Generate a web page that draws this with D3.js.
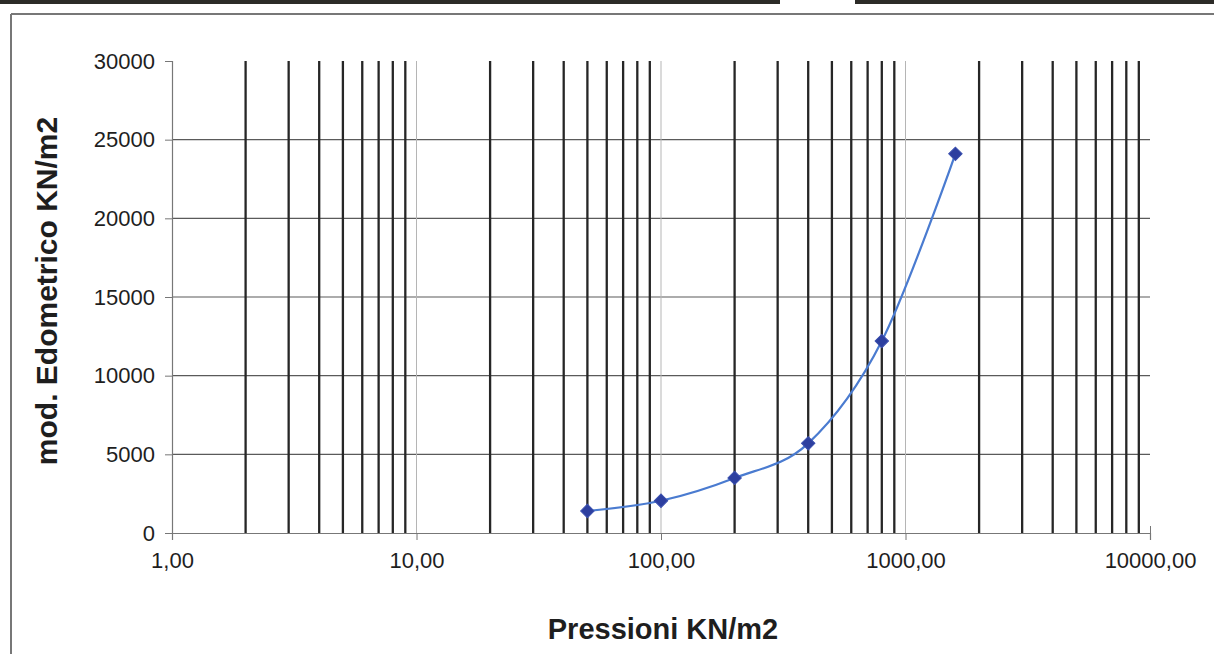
<!DOCTYPE html>
<html lang="it">
<head>
    <meta charset="UTF-8">
    <title>mod. Edometrico</title>
    <script src="https://d3js.org/d3.v7.min.js"></script>
    <style>
        body { margin: 0; background: #fff; }
        svg { display: block; }
        text { font-family: "Liberation Sans", Arial, sans-serif; fill: #1e1e1e; }
        .title { font-weight: bold; font-size: 29px; }
        .tick-label { font-size: 22px; }
    </style>
</head>
<body>
    <svg width="1214" height="654"></svg>
    <script>
        // values
        const pressures = [50, 100, 200, 400, 800, 1600];
        const moduli = [1400, 2050, 3500, 5700, 12200, 24100];
        const xTicks = [1, 10, 100, 1000, 10000];
        const xTickLabels = ["1,00", "10,00", "100,00", "1000,00", "10000,00"];
        const yTicks = [0, 5000, 10000, 15000, 20000, 25000, 30000];
        const xTitle = "Pressioni KN/m2";
        const yTitle = "mod. Edometrico KN/m2";

        const svg = d3.select("svg");

        // scanned frame: dark strip on top, border lines
        svg.append("rect").attr("x", 0).attr("y", 0).attr("width", 780).attr("height", 4).attr("fill", "#2c2b27");
        svg.append("rect").attr("x", 855).attr("y", 0).attr("width", 359).attr("height", 4).attr("fill", "#2c2b27");
        svg.append("line").attr("x1", 11).attr("x2", 1214).attr("y1", 14).attr("y2", 14)
            .attr("stroke", "#777").attr("stroke-width", 2);
        svg.append("line").attr("x1", 11).attr("x2", 11).attr("y1", 14).attr("y2", 654)
            .attr("stroke", "#777").attr("stroke-width", 2);

        const x = d3.scaleLog().domain([1, 10000]).range([172, 1150]);
        const y = d3.scaleLinear().domain([0, 30000]).range([533, 61]);

        // horizontal grid
        svg.append("g").selectAll("line")
            .data(yTicks.filter(v => v > 0 && v < 30000))
            .enter().append("line")
            .attr("x1", x(1)).attr("x2", x(10000))
            .attr("y1", d => y(d)).attr("y2", d => y(d))
            .attr("stroke", "#5a5a5a").attr("stroke-width", 1.2);

        // major vertical grid (thin)
        svg.append("g").selectAll("line")
            .data(xTicks.slice(1, -1))
            .enter().append("line")
            .attr("x1", d => x(d)).attr("x2", d => x(d))
            .attr("y1", y(30000)).attr("y2", y(0))
            .attr("stroke", "#b5b5b5").attr("stroke-width", 1);

        // minor vertical grid (heavy)
        const minor = [];
        xTicks.slice(0, -1).forEach(d => {
            for (let k = 2; k <= 9; k++) minor.push(k * d);
        });
        svg.append("g").selectAll("line")
            .data(minor)
            .enter().append("line")
            .attr("x1", d => x(d)).attr("x2", d => x(d))
            .attr("y1", y(30000)).attr("y2", y(0))
            .attr("stroke", "#262626").attr("stroke-width", 2.3);

        // y axis
        const yAxis = svg.append("g")
            .attr("transform", `translate(${x(1)},0)`)
            .call(d3.axisLeft(y).tickValues(yTicks).tickSize(7).tickPadding(10).tickFormat(d => d));
        yAxis.select(".domain").attr("stroke", "#777").attr("stroke-width", 1.2);
        yAxis.selectAll(".tick line").attr("stroke", "#777");
        yAxis.selectAll(".tick text").attr("class", "tick-label");

        // x axis
        const xAxis = svg.append("g")
            .attr("transform", `translate(0,${y(0)})`)
            .call(d3.axisBottom(x).tickValues(xTicks).tickSize(7).tickPadding(12)
                .tickFormat((d, i) => xTickLabels[i]));
        xAxis.select(".domain").attr("stroke", "#777").attr("stroke-width", 1.2);
        xAxis.selectAll(".tick line").attr("stroke", "#777");
        xAxis.selectAll(".tick text").attr("class", "tick-label");
        xAxis.selectAll(".tick").filter(d => d === 10000).select("line").attr("y1", -7);
        svg.selectAll(".tick-label").attr("fill", "#1e1e1e");

        // series
        const pts = pressures.map((p, i) => [x(p), y(moduli[i])]);
        svg.append("path")
            .attr("d", d3.line().curve(d3.curveCardinal.tension(0))(pts))
            .attr("fill", "none")
            .attr("stroke", "#4a7bd0")
            .attr("stroke-width", 2.2);

        svg.append("g").selectAll("path")
            .data(pts)
            .enter().append("path")
            .attr("d", d3.symbol().type(d3.symbolSquare).size(90))
            .attr("transform", d => `translate(${d[0]},${d[1]}) rotate(45)`)
            .attr("fill", "#2d3f9f")
            .attr("stroke", "#3a4fae")
            .attr("stroke-width", 1);

        // titles
        svg.append("text").attr("class", "title")
            .attr("x", 663).attr("y", 639)
            .attr("text-anchor", "middle")
            .text(xTitle);
        svg.append("text").attr("class", "title")
            .attr("transform", "translate(57,291) rotate(-90)")
            .attr("text-anchor", "middle")
            .style("font-size", "30px")
            .text(yTitle);
    </script>
</body>
</html>
